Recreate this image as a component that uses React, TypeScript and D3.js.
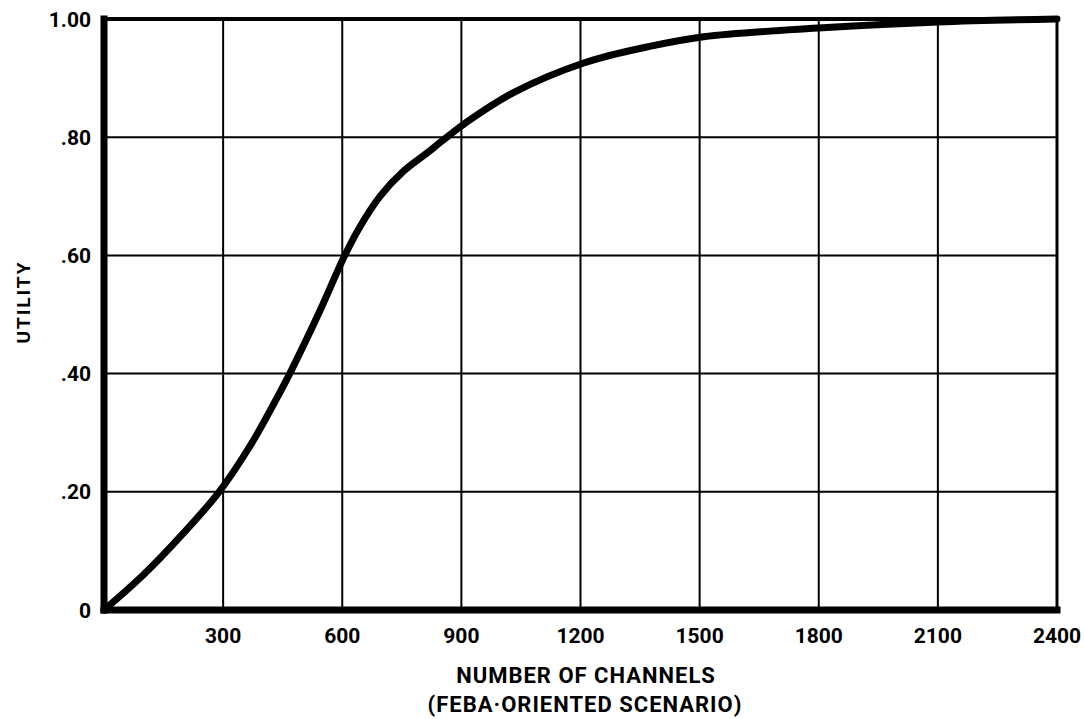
import React from "react";
import { scaleLinear, line, curveCatmullRom } from "d3";

// values
const channels = [0, 100, 200, 290, 370, 435, 470, 545, 605, 645, 695, 755, 815, 850, 910, 1030, 1210, 1370, 1510, 1810, 2100, 2400];
const utility = [0, 0.06, 0.13, 0.2, 0.28, 0.358, 0.403, 0.508, 0.598, 0.649, 0.7, 0.743, 0.774, 0.793, 0.824, 0.875, 0.926, 0.953, 0.97, 0.985, 0.995, 1.0];
const xTicks = [300, 600, 900, 1200, 1500, 1800, 2100, 2400];
const yTicks = [0, 0.2, 0.4, 0.6, 0.8, 1.0];
const yTickLabels = ["0", ".20", ".40", ".60", ".80", "1.00"];

const width = 1085;
const height = 719;
const font = "Roboto, 'Liberation Sans', sans-serif";

const App: React.FC = () => {
  const x = scaleLinear().domain([0, 2400]).range([104, 1057]);
  const y = scaleLinear().domain([0, 1]).range([610, 19]);

  const pts = channels.map((c, i) => [c, utility[i]] as [number, number]);
  const path = line<[number, number]>()
    .x((d) => x(d[0]))
    .y((d) => y(d[1]))
    .curve(curveCatmullRom.alpha(0.5))(pts);

  return (
    <div style={{ position: "absolute", left: 0, top: 0 }}>
      <svg width={width} height={height} style={{ background: "white", display: "block" }}>
        {/* grid */}
        <g stroke="black" strokeWidth={2}>
          {xTicks.slice(0, -1).map((t) => (
            <line key={t} x1={x(t)} x2={x(t)} y1={y(1)} y2={y(0)} />
          ))}
          {yTicks.slice(1, -1).map((t) => (
            <line key={t} x1={x(0)} x2={x(2400)} y1={y(t)} y2={y(t)} />
          ))}
        </g>
        {/* frame */}
        <g stroke="black" strokeLinecap="square">
          <line x1={x(0)} x2={x(2400)} y1={y(1)} y2={y(1)} strokeWidth={4} />
          <line x1={x(2400)} x2={x(2400)} y1={y(1)} y2={y(0)} strokeWidth={3} />
          <line x1={x(0)} x2={x(2400)} y1={y(0)} y2={y(0)} strokeWidth={7} />
          <line x1={x(0)} x2={x(0)} y1={y(1)} y2={y(0)} strokeWidth={7} />
        </g>
        {/* curve */}
        <path d={path ?? ""} fill="none" stroke="black" strokeWidth={7} strokeLinecap="round" />
        {/* y tick labels */}
        <g fontFamily={font} fontWeight="bold" fontSize={21} textAnchor="end">
          {yTicks.map((t, i) => (
            <text key={t} x={91} y={y(t)} dy="0.36em">
              {yTickLabels[i]}
            </text>
          ))}
        </g>
        {/* x tick labels */}
        <g fontFamily={font} fontWeight="bold" fontSize={21} textAnchor="middle">
          {xTicks.map((t) => (
            <text key={t} x={x(t)} y={643}>
              {t}
            </text>
          ))}
        </g>
        {/* axis titles */}
        <text
          transform="translate(30,302) rotate(-90)"
          textAnchor="middle"
          fontFamily={font}
          fontWeight="bold"
          fontSize={19}
          letterSpacing={2}
        >
          UTILITY
        </text>
        <g fontFamily={font} fontWeight="bold" fontSize={22} textAnchor="middle" letterSpacing={1}>
          <text x={586} y={683}>NUMBER OF CHANNELS</text>
          <text x={585} y={712}>(FEBA·ORIENTED SCENARIO)</text>
        </g>
      </svg>
    </div>
  );
};

export default App;
